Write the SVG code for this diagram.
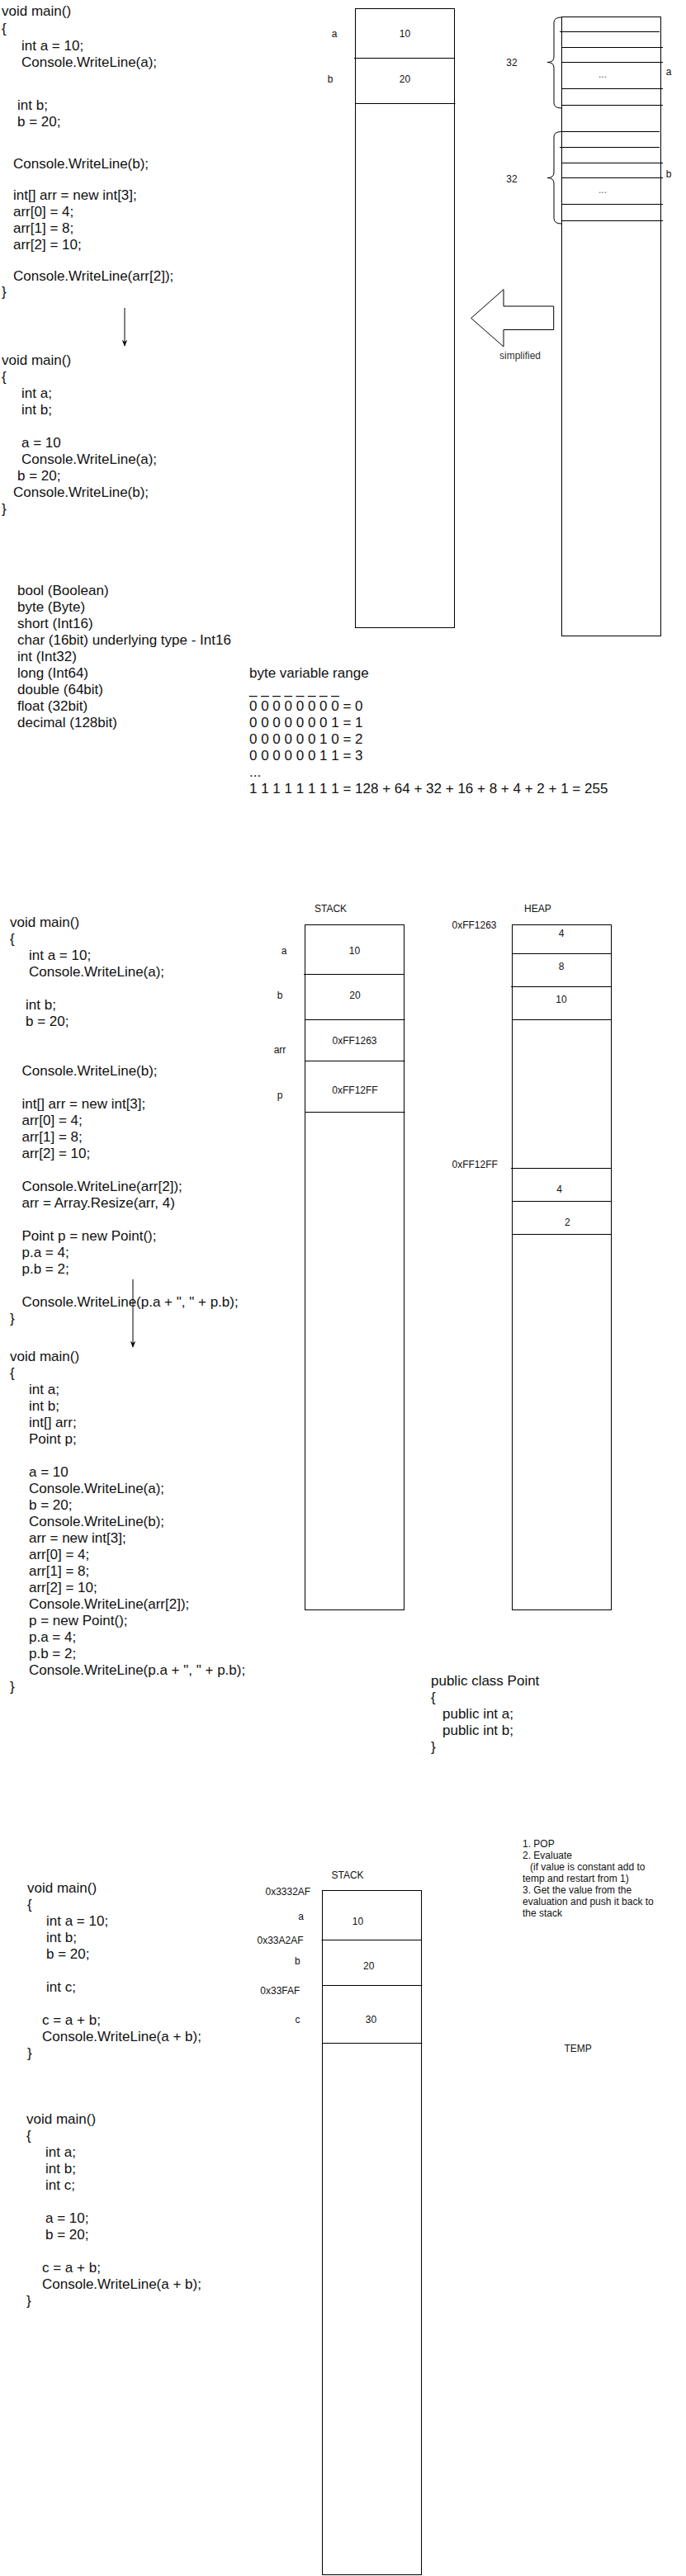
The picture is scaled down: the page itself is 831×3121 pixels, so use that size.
<svg xmlns="http://www.w3.org/2000/svg" width="831" height="3121" viewBox="0 0 831 3121">
<style>
.code{font-family:"Liberation Sans",Arial,Helvetica,sans-serif;font-size:17px;fill:#111}
.lbl{font-family:"Liberation Sans",Arial,Helvetica,sans-serif;font-size:12px;fill:#111}
.mid{text-anchor:middle}
.note{font-family:"Liberation Sans",Arial,Helvetica,sans-serif;font-size:12px;fill:#111}
.box{fill:#fff;stroke:#000;stroke-width:1}
.ln{fill:none;stroke:#000;stroke-width:1}
.dots{font-family:"Liberation Sans",Arial,Helvetica,sans-serif;font-size:12px;fill:#555;text-anchor:middle}
</style>
<defs>
<marker id="arr" viewBox="0 0 10 10" refX="9" refY="5" markerUnits="userSpaceOnUse" markerWidth="8" markerHeight="8" orient="auto">
<path d="M0,1 L10,5 L0,9 L3,5 z" fill="#000"/>
</marker>
</defs>
<rect width="831" height="3121" fill="#fff"/>

<!-- Section 1 -->
<g id="code1">
<text class="code">
<tspan x="2" y="19">void main()</tspan>
<tspan x="2" y="40">{</tspan>
<tspan x="26" y="61">int a = 10;</tspan>
<tspan x="26" y="81">Console.WriteLine(a);</tspan>
<tspan x="21" y="133">int b;</tspan>
<tspan x="21" y="153">b = 20;</tspan>
<tspan x="16" y="204">Console.WriteLine(b);</tspan>
<tspan x="16" y="242">int[] arr = new int[3];</tspan>
<tspan x="16" y="262">arr[0] = 4;</tspan>
<tspan x="16" y="282">arr[1] = 8;</tspan>
<tspan x="16" y="302">arr[2] = 10;</tspan>
<tspan x="16" y="340">Console.WriteLine(arr[2]);</tspan>
<tspan x="2" y="359">}</tspan>
</text>
</g>

<g id="code2">
<text class="code">
<tspan x="2" y="442">void main()</tspan>
<tspan x="2" y="462">{</tspan>
<tspan x="26" y="482">int a;</tspan>
<tspan x="26" y="502">int b;</tspan>
<tspan x="26" y="542">a = 10</tspan>
<tspan x="26" y="562">Console.WriteLine(a);</tspan>
<tspan x="21" y="582">b = 20;</tspan>
<tspan x="16" y="602">Console.WriteLine(b);</tspan>
<tspan x="2" y="622">}</tspan>
</text>
</g>

<g id="stack1">
<rect class="box" x="430.5" y="10.5" width="120" height="750"/>
<line class="ln" x1="429" y1="70.5" x2="550.5" y2="70.5"/>
<line class="ln" x1="430.5" y1="125.5" x2="551.5" y2="125.5"/>
<text class="lbl mid" x="405" y="45">a</text>
<text class="lbl mid" x="490.5" y="45">10</text>
<text class="lbl mid" x="400" y="100">b</text>
<text class="lbl mid" x="490.5" y="100">20</text>
</g>

<g id="bits">
<rect class="box" x="680.5" y="20.5" width="120" height="750"/>
<line class="ln" x1="678" y1="38.5" x2="799" y2="38.5"/>
<line class="ln" x1="681" y1="57.5" x2="803" y2="57.5"/>
<line class="ln" x1="681" y1="75.5" x2="803" y2="75.5"/>
<line class="ln" x1="681" y1="107.5" x2="803" y2="107.5"/>
<line class="ln" x1="681" y1="127.5" x2="803" y2="127.5"/>
<line class="ln" x1="680" y1="159.5" x2="799" y2="159.5"/>
<line class="ln" x1="678" y1="178.5" x2="799" y2="178.5"/>
<line class="ln" x1="681" y1="197.5" x2="803" y2="197.5"/>
<line class="ln" x1="681" y1="215.5" x2="803" y2="215.5"/>
<line class="ln" x1="681" y1="247.5" x2="803" y2="247.5"/>
<line class="ln" x1="681" y1="267.5" x2="803" y2="267.5"/>
<text class="dots" x="730" y="94">...</text>
<text class="dots" x="730" y="234">...</text>
<text class="lbl mid" x="810" y="90.5">a</text>
<text class="lbl mid" x="810" y="215">b</text>
</g>

<g id="brace1">
<path class="ln" d="M680,21 Q671,21 671,27.5 L671,69 Q671,75.5 663,75.5 Q671,75.5 671,82 L671,124.5 Q671,131 680,131"/>
<text class="lbl mid" x="620" y="80">32</text>
</g>
<g id="brace2">
<path class="ln" d="M680,159.5 Q671,159.5 671,166 L671,209 Q671,215.5 663,215.5 Q671,215.5 671,222 L671,264.5 Q671,271 680,271"/>
<text class="lbl mid" x="620" y="220.5">32</text>
</g>

<g id="simplify-arrow">
<polygon class="box" points="570.7,385.5 610,350.7 610,371 670.7,371 670.7,399.5 610,399.5 610,420"/>
<text class="lbl" x="605" y="435" style="fill:#333">simplified</text>
</g>

<g id="types">
<text class="code">
<tspan x="21" y="721">bool (Boolean)</tspan>
<tspan x="21" y="741">byte (Byte)</tspan>
<tspan x="21" y="761">short (Int16)</tspan>
<tspan x="21" y="781">char (16bit) underlying type - Int16</tspan>
<tspan x="21" y="801">int (Int32)</tspan>
<tspan x="21" y="821">long (Int64)</tspan>
<tspan x="21" y="841">double (64bit)</tspan>
<tspan x="21" y="861">float (32bit)</tspan>
<tspan x="21" y="881">decimal (128bit)</tspan>
</text>
</g>

<g id="byterange">
<text class="code">
<tspan x="302" y="821">byte variable range</tspan>
<tspan x="302" y="841">_ _ _ _ _ _ _ _</tspan>
<tspan x="302" y="861">0 0 0 0 0 0 0 0 = 0</tspan>
<tspan x="302" y="881">0 0 0 0 0 0 0 1 = 1</tspan>
<tspan x="302" y="901">0 0 0 0 0 0 1 0 = 2</tspan>
<tspan x="302" y="921">0 0 0 0 0 0 1 1 = 3</tspan>
<tspan x="302" y="941">...</tspan>
<tspan x="302" y="961">1 1 1 1 1 1 1 1 = 128 + 64 + 32 + 16 + 8 + 4 + 2 + 1 = 255</tspan>
</text>
</g>

<!-- Section 2 -->
<g id="code3">
<text class="code">
<tspan x="12" y="1123">void main()</tspan>
<tspan x="12" y="1143">{</tspan>
<tspan x="35" y="1163">int a = 10;</tspan>
<tspan x="35" y="1183">Console.WriteLine(a);</tspan>
<tspan x="31" y="1223">int b;</tspan>
<tspan x="31" y="1243">b = 20;</tspan>
<tspan x="26.5" y="1303">Console.WriteLine(b);</tspan>
<tspan x="26.5" y="1343">int[] arr = new int[3];</tspan>
<tspan x="26.5" y="1363">arr[0] = 4;</tspan>
<tspan x="26.5" y="1383">arr[1] = 8;</tspan>
<tspan x="26.5" y="1403">arr[2] = 10;</tspan>
<tspan x="26.5" y="1443">Console.WriteLine(arr[2]);</tspan>
<tspan x="26.5" y="1463">arr = Array.Resize(arr, 4)</tspan>
<tspan x="26.5" y="1503">Point p = new Point();</tspan>
<tspan x="26.5" y="1523">p.a = 4;</tspan>
<tspan x="26.5" y="1543">p.b = 2;</tspan>
<tspan x="26.5" y="1583">Console.WriteLine(p.a + ", " + p.b);</tspan>
<tspan x="12" y="1603">}</tspan>
</text>
</g>

<g id="code4">
<text class="code">
<tspan x="12" y="1649">void main()</tspan>
<tspan x="12" y="1669">{</tspan>
<tspan x="35" y="1689">int a;</tspan>
<tspan x="35" y="1709">int b;</tspan>
<tspan x="35" y="1729">int[] arr;</tspan>
<tspan x="35" y="1749">Point p;</tspan>
<tspan x="35" y="1789">a = 10</tspan>
<tspan x="35" y="1809">Console.WriteLine(a);</tspan>
<tspan x="35" y="1829">b = 20;</tspan>
<tspan x="35" y="1849">Console.WriteLine(b);</tspan>
<tspan x="35" y="1869">arr = new int[3];</tspan>
<tspan x="35" y="1889">arr[0] = 4;</tspan>
<tspan x="35" y="1909">arr[1] = 8;</tspan>
<tspan x="35" y="1929">arr[2] = 10;</tspan>
<tspan x="35" y="1949">Console.WriteLine(arr[2]);</tspan>
<tspan x="35" y="1969">p = new Point();</tspan>
<tspan x="35" y="1989">p.a = 4;</tspan>
<tspan x="35" y="2009">p.b = 2;</tspan>
<tspan x="35" y="2029">Console.WriteLine(p.a + ", " + p.b);</tspan>
<tspan x="12" y="2049">}</tspan>
</text>
</g>

<g id="stack2">
<text class="lbl" x="381" y="1105">STACK</text>
<rect class="box" x="369.5" y="1120.5" width="120" height="830"/>
<line class="ln" x1="368" y1="1180.5" x2="489.5" y2="1180.5"/>
<line class="ln" x1="369.5" y1="1235.5" x2="490.5" y2="1235.5"/>
<line class="ln" x1="369.5" y1="1285.5" x2="490.5" y2="1285.5"/>
<line class="ln" x1="369.5" y1="1347.5" x2="490.5" y2="1347.5"/>
<text class="lbl mid" x="344" y="1155.5">a</text>
<text class="lbl mid" x="429.5" y="1155.5">10</text>
<text class="lbl mid" x="339" y="1210">b</text>
<text class="lbl mid" x="430" y="1210">20</text>
<text class="lbl mid" x="339" y="1275.5">arr</text>
<text class="lbl mid" x="429.5" y="1265">0xFF1263</text>
<text class="lbl mid" x="339" y="1330.5">p</text>
<text class="lbl mid" x="430" y="1325">0xFF12FF</text>
</g>

<g id="heap">
<text class="lbl" x="635" y="1105">HEAP</text>
<text class="lbl" x="547.5" y="1125">0xFF1263</text>
<text class="lbl" x="547.5" y="1415">0xFF12FF</text>
<rect class="box" x="620.5" y="1120.5" width="120" height="830"/>
<line class="ln" x1="620" y1="1155.5" x2="740.5" y2="1155.5"/>
<line class="ln" x1="619" y1="1195.5" x2="740.5" y2="1195.5"/>
<line class="ln" x1="620" y1="1235.5" x2="740.5" y2="1235.5"/>
<line class="ln" x1="619" y1="1415.5" x2="740.5" y2="1415.5"/>
<line class="ln" x1="620" y1="1455.5" x2="740.5" y2="1455.5"/>
<line class="ln" x1="620" y1="1495.5" x2="740.5" y2="1495.5"/>
<text class="lbl mid" x="680" y="1135">4</text>
<text class="lbl mid" x="680" y="1175">8</text>
<text class="lbl mid" x="680" y="1215">10</text>
<text class="lbl mid" x="677.7" y="1445">4</text>
<text class="lbl mid" x="687.3" y="1485">2</text>
</g>

<g id="pointclass">
<text class="code">
<tspan x="522" y="2042">public class Point</tspan>
<tspan x="522" y="2062">{</tspan>
<tspan x="536" y="2082">public int a;</tspan>
<tspan x="536" y="2102">public int b;</tspan>
<tspan x="522" y="2122">}</tspan>
</text>
</g>

<!-- Section 3 -->
<g id="code5">
<text class="code">
<tspan x="33" y="2293">void main()</tspan>
<tspan x="33" y="2313">{</tspan>
<tspan x="56" y="2333">int a = 10;</tspan>
<tspan x="56" y="2353">int b;</tspan>
<tspan x="56" y="2373">b = 20;</tspan>
<tspan x="56" y="2413">int c;</tspan>
<tspan x="51" y="2453">c = a + b;</tspan>
<tspan x="51" y="2473">Console.WriteLine(a + b);</tspan>
<tspan x="33" y="2493">}</tspan>
</text>
</g>

<g id="code6">
<text class="code">
<tspan x="32" y="2573">void main()</tspan>
<tspan x="32" y="2593">{</tspan>
<tspan x="55" y="2613">int a;</tspan>
<tspan x="55" y="2633">int b;</tspan>
<tspan x="55" y="2653">int c;</tspan>
<tspan x="55" y="2693">a = 10;</tspan>
<tspan x="55" y="2713">b = 20;</tspan>
<tspan x="51" y="2753">c = a + b;</tspan>
<tspan x="51" y="2773">Console.WriteLine(a + b);</tspan>
<tspan x="32" y="2793">}</tspan>
</text>
</g>

<g id="stack3">
<text class="lbl" x="401.5" y="2275.5">STACK</text>
<rect class="box" x="390.5" y="2290.5" width="120" height="829"/>
<line class="ln" x1="389.5" y1="2350.5" x2="510.5" y2="2350.5"/>
<line class="ln" x1="390.5" y1="2405.5" x2="511.5" y2="2405.5"/>
<line class="ln" x1="390.5" y1="2475.5" x2="511.5" y2="2475.5"/>
<text class="lbl" x="321.5" y="2295.5">0x3332AF</text>
<text class="lbl mid" x="364.6" y="2325.5">a</text>
<text class="lbl mid" x="433.5" y="2332">10</text>
<text class="lbl" x="311.5" y="2354.5">0x33A2AF</text>
<text class="lbl mid" x="360.4" y="2380">b</text>
<text class="lbl mid" x="446.7" y="2385.5">20</text>
<text class="lbl" x="315.3" y="2415.5">0x33FAF</text>
<text class="lbl mid" x="360.4" y="2450.5">c</text>
<text class="lbl mid" x="449.4" y="2450.5">30</text>
</g>

<g id="notes">
<text class="note">
<tspan x="633" y="2238">1. POP</tspan>
<tspan x="633" y="2252">2. Evaluate</tspan>
<tspan x="642" y="2266">(if value is constant add to</tspan>
<tspan x="633" y="2280">temp and restart from 1)</tspan>
<tspan x="633" y="2294">3. Get the value from the</tspan>
<tspan x="633" y="2308">evaluation and push it back to</tspan>
<tspan x="633" y="2322">the stack</tspan>
</text>
</g>

<g id="temp">
<text class="lbl" x="683.5" y="2485.5">TEMP</text>
</g>

<g id="connectors">
<line class="ln" x1="151" y1="373" x2="151" y2="419" marker-end="url(#arr)"/>
<line class="ln" x1="161" y1="1550" x2="161" y2="1632" marker-end="url(#arr)"/>
</g>
</svg>
